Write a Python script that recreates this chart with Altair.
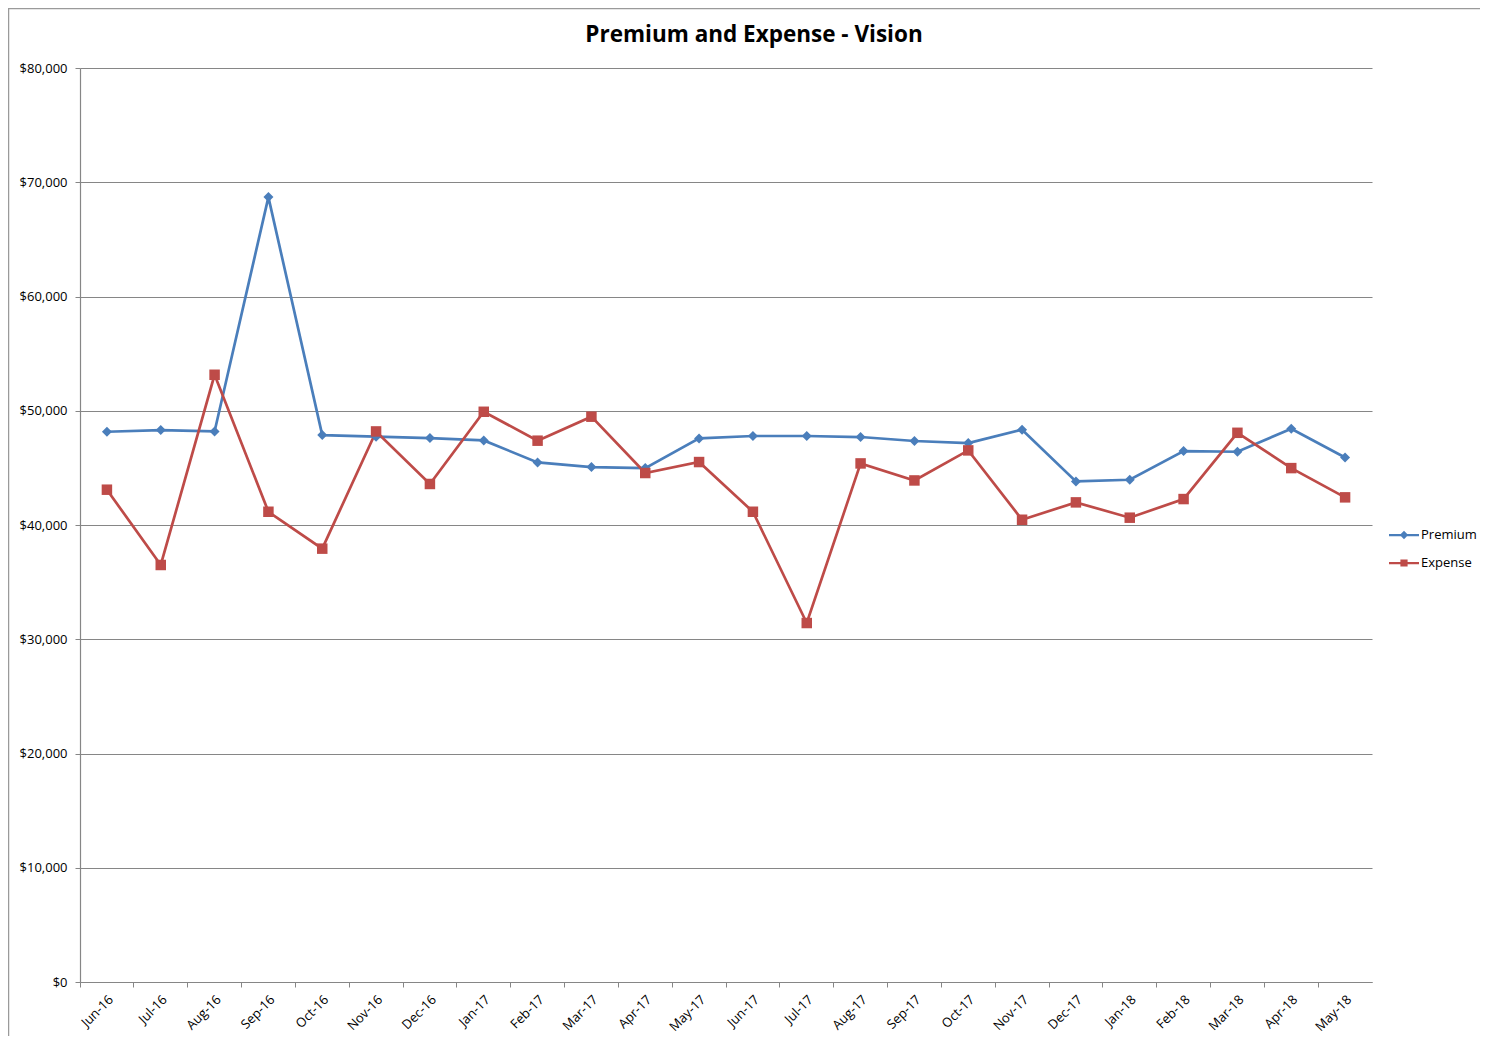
import altair as alt
import pandas as pd

months = ["Jun-16", "Jul-16", "Aug-16", "Sep-16", "Oct-16", "Nov-16", "Dec-16",
          "Jan-17", "Feb-17", "Mar-17", "Apr-17", "May-17", "Jun-17", "Jul-17",
          "Aug-17", "Sep-17", "Oct-17", "Nov-17", "Dec-17", "Jan-18", "Feb-18",
          "Mar-18", "Apr-18", "May-18"]
premium = [48160, 48310, 48190, 68700, 47870, 47730, 47610,
           47400, 45480, 45070, 44980, 47580, 47790, 47790,
           47700, 47350, 47170, 48340, 43810, 43960, 46470,
           46410, 48430, 45910]
expense = [43090, 36500, 53150, 41160, 37930, 48190, 43590,
           49910, 47380, 49480, 44550, 45510, 41160, 31420,
           45390, 43900, 46530, 40460, 41980, 40640, 42270,
           48070, 44980, 42420]
series = ["Premium", "Expense"]
colors = ["#4A7EBB", "#BE4B48"]
y_ticks = [0, 10000, 20000, 30000, 40000, 50000, 60000, 70000, 80000]

df = pd.DataFrame({
    "month": months * 2,
    "value": premium + expense,
    "series": ["Premium"] * len(months) + ["Expense"] * len(months),
})

FONT = "Open Sans"
GRAY = "#868686"

PREM_PATH = "M-1,-0.075H1V0.075H-1Z M0,-0.28L0.28,0L0,0.28L-0.28,0Z"
EXP_PATH = "M-1,-0.075H1V0.075H-1Z M-0.24,-0.24H0.24V0.24H-0.24Z"

y_enc = alt.Y("value:Q", scale=alt.Scale(domain=[0, 80000], nice=False),
              axis=alt.Axis(values=y_ticks, format="$,.0f", title=None, grid=True,
                            tickSize=5, labelPadding=8))
x_scale = alt.Scale(type="band", paddingInner=0, paddingOuter=0)

lines = alt.Chart(df).mark_line(strokeWidth=2.7).encode(
    x=alt.X("month:N", sort=months, scale=x_scale,
            axis=alt.Axis(title=None, ticks=False, labelAngle=-45, labelPadding=11,
                          grid=False, orient="bottom")),
    y=y_enc,
    color=alt.Color("series:N", scale=alt.Scale(domain=series, range=colors), legend=None),
    detail="series:N",
)


def point_layer(name, color, shape, size, path, ly, axis):
    return alt.Chart(df).transform_filter(alt.datum.series == name).mark_point(
        filled=True, opacity=1, shape=shape, size=size
    ).encode(
        x=alt.X("month:N", sort=months, scale=x_scale, axis=axis),
        y=y_enc,
        color=alt.Color("series:N", scale=alt.Scale(domain=[name], range=[color]),
                        legend=alt.Legend(
                            title=None, orient="none", legendX=1309, legendY=ly,
                            symbolType=path, symbolSize=900, symbolFillColor=color,
                            symbolStrokeColor=color, symbolStrokeWidth=0, symbolOpacity=1,
                            labelFontSize=13, labelFont=FONT, labelColor="#000000",
                            labelOffset=2)),
    )


tick_axis = alt.Axis(title=None, labels=False, domain=False, grid=False, orient="bottom",
                     ticks=True, tickSize=5, bandPosition=0)
prem_pts = point_layer("Premium", colors[0], "diamond", 100, PREM_PATH, 452, tick_axis)
exp_pts = point_layer("Expense", colors[1], "square", 110, EXP_PATH, 480, None)

border = alt.Chart(pd.DataFrame({"b": [0]})).mark_rect(
    fillOpacity=0, stroke="#9a9a9a", strokeWidth=1.5
).encode(x=alt.value(-71.5), x2=alt.value(1500), y=alt.value(-59.5), y2=alt.value(1100))

chart = alt.layer(border, lines, prem_pts, exp_pts).resolve_scale(
    color="independent"
).resolve_axis(x="independent").properties(
    width=1292, height=914,
    title=alt.Title("Premium and Expense - Vision", fontSize=22.5, font=FONT, fontWeight="bold",
                    anchor="middle", dx=28, offset=-57, baseline="alphabetic", color="#000000"),
    autosize=alt.AutoSizeParams(type="none"),
    padding={"left": 72, "top": 60, "right": 108, "bottom": 54},
).configure_view(stroke=None).configure_axis(
    domainColor=GRAY, gridColor=GRAY, tickColor=GRAY, labelColor="#000000",
    labelFont=FONT, labelFontSize=13, domainWidth=1.2, gridWidth=1.1,
)

chart.save("out.html", embed_options={"renderer": "svg", "actions": False})
